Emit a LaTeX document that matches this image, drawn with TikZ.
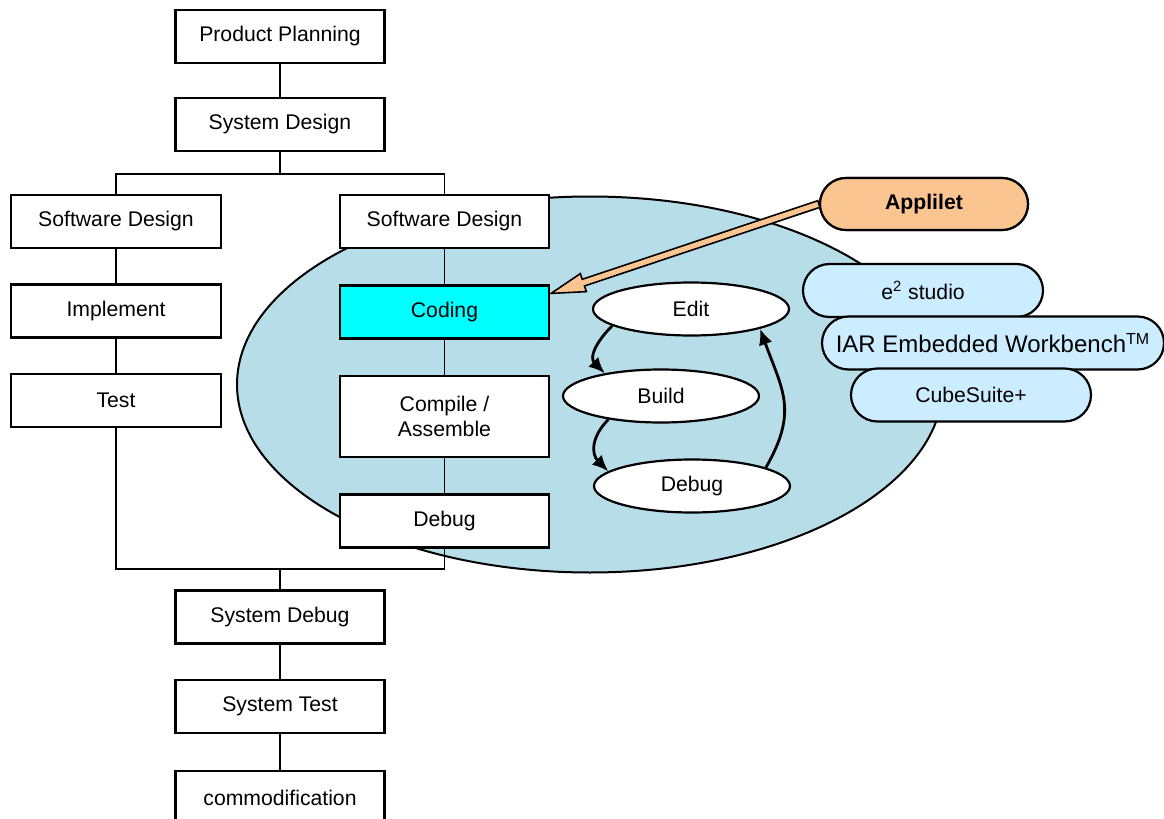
\documentclass[tikz,border=0pt]{standalone}
\usepackage{fontspec}
\setmainfont{Liberation Sans}
\usetikzlibrary{shapes.geometric, shapes.misc, arrows.meta, calc}
\definecolor{idefill}{RGB}{183,221,232}
\definecolor{toolfill}{RGB}{204,236,255}
\definecolor{appfill}{RGB}{250,197,145}
\definecolor{codefill}{RGB}{0,255,255}
\newcommand{\boxfont}{\fontsize{10.6pt}{12.5pt}\selectfont}
\begin{document}
\begin{tikzpicture}[x = 0.5pt, y = 0.5pt, font = \boxfont,
		box/.style = {draw, line width = 1.1pt, fill = white, minimum width = 104.5pt, minimum height = 26.5pt, inner sep = 0pt, align = center},
		oval/.style = {draw, ellipse, line width = 1.1pt, fill = white, minimum width = 98pt, minimum height = 26.5pt, inner sep = 0pt},
		tool/.style = {draw, rounded rectangle, line width = 1.1pt, fill = toolfill, minimum height = 26.5pt, inner sep = 0pt},
		wire/.style = {line width = 0.8pt},
		editflow/.style = {line width = 1.4pt, -{Latex[length = 8pt, width = 7pt]}}]
	\useasboundingbox (0, 0) rectangle (1164, -819);
	\clip (0, 0) rectangle (1164, -819);
	% tool area
	\node[draw, ellipse, line width = 1pt, fill = idefill, minimum width = 353pt, minimum height = 188pt, inner sep = 0pt] (ide) at (590, -384.5) {};
	% flow boxes
	\node[box] (plan)   at (280, -36.5) {Product Planning};
	\node[box] (sysdes) at (280, -124.5) {System Design};
	\node[box, minimum width = 105pt] (swl) at (116, -221.5) {Software Design};
	\node[box, minimum width = 105pt] (impl) at (116, -311) {Implement};
	\node[box, minimum width = 105pt] (test) at (116, -400.5) {Test};
	\node[box] (swr)    at (444.5, -221.5) {Software Design};
	\node[box, fill = codefill] (coding) at (444.5, -312) {Coding};
	\node[box, minimum height = 40.5pt] (compile) at (444.5, -416.5) {Compile /\\Assemble};
	\node[box] (dbg)    at (444.5, -521) {Debug};
	\node[box] (sysdbg) at (280, -617) {System Debug};
	\node[box] (systest) at (280, -706.5) {System Test};
	\node[box] (comm)   at (280, -797.5) {commodification};
	\coordinate (split) at (280, -174);
	\coordinate (join)  at (280, -569);
	% connectors
	\draw[wire] (plan) -- (sysdes);
	\draw[wire] (sysdes) -- (split);
	\draw[wire] (split) -| (swl);
	\draw[wire] (split) -| (swr);
	\draw[wire] (swl) -- (impl);
	\draw[wire] (impl) -- (test);
	\draw[wire] (swr) -- (coding);
	\draw[wire] (coding) -- (compile);
	\draw[wire] (compile) -- (dbg);
	\draw[wire] (test) |- (join);
	\draw[wire] (dbg) |- (join);
	\draw[wire] (join) -- (sysdbg);
	\draw[wire] (sysdbg) -- (systest);
	\draw[wire] (systest) -- (comm);
	% edit - build - debug cycle
	\node[oval] (edit)  at (691, -309) {Edit};
	\node[oval] (build) at (661, -396) {Build};
	\node[oval] (debug) at (692, -486) {Debug};
	\draw[editflow] (edit.192) to[out = 225, in = 135, looseness = 1.2] (build.158);
	\draw[editflow] (build.204) to[out = 225, in = 135, looseness = 1.2] (debug.170);
	\draw[editflow] (debug.14) to[out = 60, in = -70, looseness = 1.2] (edit.344);
	% tools
	\node[tool, minimum width = 120pt] (e2) at (923, -290.5) {e\textsuperscript{2} studio};
	\node[tool, minimum width = 171pt, font = \fontsize{12pt}{14pt}\selectfont] (iar) at (993, -343) {IAR Embedded Workbench\textsuperscript{TM}};
	\node[tool, minimum width = 120pt] (cube) at (971, -395) {CubeSuite+};
	% Applilet arrow
	\node[tool, fill = appfill, minimum width = 104pt, minimum height = 26pt, font = \boxfont\bfseries] (appl) at (924, -204) {};
	\coordinate (tip) at ($(coding.north east) + (1, -9)$);
	\draw[line width = 0.8pt, fill = appfill] let \p1 = ($(tip) - (appl.west)$), \n1 = {atan2(\y1, \x1)}, \n2 = {veclen(\x1, \y1)} in
		($(appl.west) + (\n1 + 90 : 1.75pt)$)
		-- ++(\n1 : {\n2 * 1pt - 17pt})
		-- ++(\n1 + 90 : 3pt)
		-- (tip)
		-- ($(tip) + (\n1 : -17pt) + (\n1 - 90 : 4.75pt)$)
		-- ++(\n1 + 90 : 3pt)
		-- ($(appl.west) + (\n1 - 90 : 1.75pt)$) -- cycle;
	\node[tool, fill = appfill, minimum width = 104pt, minimum height = 26pt, font = \boxfont\bfseries] at (appl) {Applilet};
\end{tikzpicture}
\end{document}
